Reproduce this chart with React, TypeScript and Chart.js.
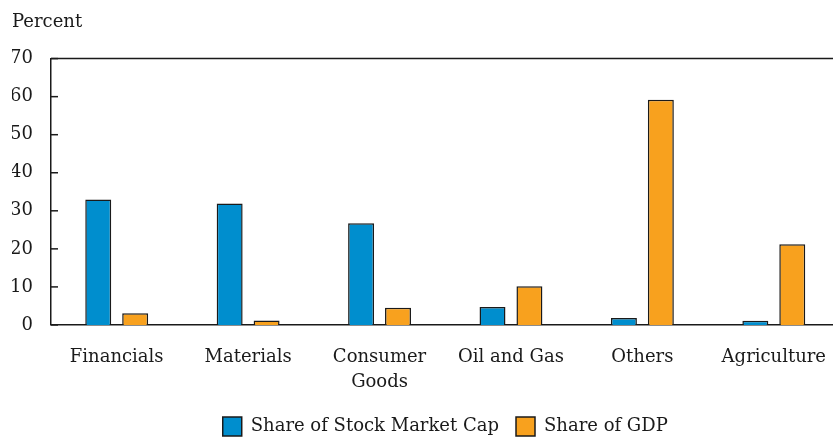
import React, { useEffect, useRef } from "react";
import { Chart, registerables } from "chart.js";

Chart.register(...registerables);

const categories: (string | string[])[] = [
  "Financials",
  "Materials",
  ["Consumer", "Goods"],
  "Oil and Gas",
  "Others",
  "Agriculture",
];
const stockMarketCap = [33.0, 31.9, 26.7, 4.7, 1.8, 1.1];
const gdpShare = [3.1, 1.2, 4.5, 10.2, 59.2, 21.2];
const yTicks = [0, 10, 20, 30, 40, 50, 60, 70];

const FONT = "'DejaVu Serif', 'Liberation Serif', serif";
const INK = "#1a1a1a";

const framePlugin = {
  id: "frameTicks",
  afterDraw(chart: any) {
    const { ctx, chartArea, scales } = chart;
    const y = scales.y;
    ctx.save();
    ctx.strokeStyle = INK;
    ctx.lineWidth = 1.5;
    const yTop = y.getPixelForValue(yTicks[yTicks.length - 1]);
    ctx.beginPath();
    ctx.moveTo(chartArea.left, yTop);
    ctx.lineTo(chartArea.right + 2, yTop);
    ctx.stroke();
    for (const v of yTicks) {
      const py = y.getPixelForValue(v);
      ctx.beginPath();
      ctx.moveTo(chartArea.left, py);
      ctx.lineTo(chartArea.left + 7, py);
      ctx.stroke();
    }
    ctx.restore();
  },
};

export default function App() {
  const ref = useRef<HTMLCanvasElement | null>(null);

  useEffect(() => {
    document.body.style.margin = "0";
    document.body.style.overflow = "hidden";
    const canvas = ref.current;
    if (!canvas) return;
    const chart = new Chart(canvas, {
      type: "bar",
      data: {
        labels: categories as any,
        datasets: [
          {
            label: "Share of Stock Market Cap",
            data: stockMarketCap,
            backgroundColor: "#008ECE",
            borderColor: INK,
            borderWidth: 1.5,
            categoryPercentage: 0.562,
            barPercentage: 0.703,
          },
          {
            label: "Share of GDP",
            data: gdpShare,
            backgroundColor: "#F8A11E",
            borderColor: INK,
            borderWidth: 1.5,
            categoryPercentage: 0.562,
            barPercentage: 0.703,
          },
        ],
      },
      options: {
        animation: false,
        responsive: false,
        maintainAspectRatio: false,
        layout: { padding: { left: 12, right: 0, top: 0, bottom: 0 } },
        plugins: {
          title: {
            display: true,
            text: "Percent",
            align: "start",
            color: INK,
            font: { family: FONT, size: 18, weight: "normal" },
            padding: { top: 12, bottom: 25 },
          },
          legend: {
            display: true,
            position: "bottom",
            fullSize: false,
            labels: {
              color: INK,
              font: { family: FONT, size: 18 },
              boxWidth: 19,
              boxHeight: 19,
              padding: 17,
            },
          },
          tooltip: { enabled: false },
        },
        scales: {
          x: {
            afterFit: (s: any) => {
              s.height = s.height - 15;
            },
            grid: { display: false, drawTicks: false },
            border: { display: true, color: INK, width: 1.5 },
            ticks: {
              color: INK,
              font: { family: FONT, size: 18, lineHeight: 1.39 },
              padding: 20,
              maxRotation: 0,
              autoSkip: false,
            },
          },
          y: {
            min: 0,
            max: 70,
            afterFit: (s: any) => {
              s.width = 39;
            },
            grid: { display: false, drawTicks: false },
            border: { display: true, color: INK, width: 1.5 },
            ticks: {
              stepSize: 10,
              color: INK,
              font: { family: FONT, size: 18 },
              padding: 18,
            },
          },
        },
      },
      plugins: [framePlugin],
    });
    return () => chart.destroy();
  }, []);

  return (
    <div style={{ position: "absolute", left: 0, top: 0, width: 846, height: 446 }}>
      <canvas ref={ref} width={846} height={446} style={{ display: "block" }} />
    </div>
  );
}
